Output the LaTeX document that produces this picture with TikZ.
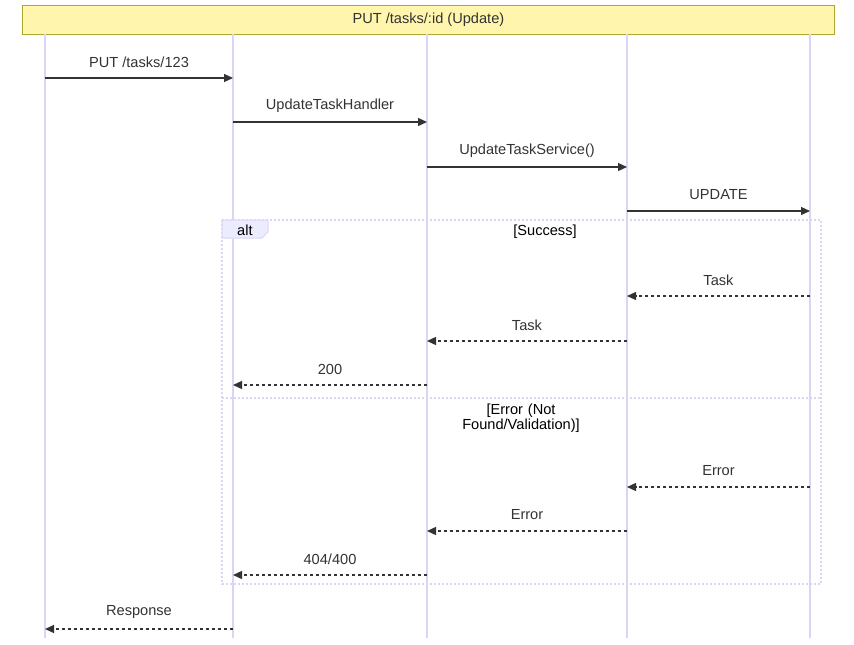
\documentclass[tikz,border=0pt]{standalone}
\usepackage{fontspec}
\setmainfont{Liberation Sans}
\usetikzlibrary{arrows.meta}
\definecolor{ink}{HTML}{333333}
\definecolor{life}{HTML}{DCD4F3}
\definecolor{notefill}{HTML}{FFF5AD}
\definecolor{noteline}{HTML}{AAAA33}
\definecolor{tabfill}{HTML}{ECECFF}
\begin{document}
\begin{tikzpicture}[x=1pt,y=-1pt,
  txt/.style={font=\fontsize{14.6}{16}\selectfont, text=ink, inner sep=0pt},
  lifeline/.style={draw=life, line width=1.6pt},
  msg/.style={draw=ink, line width=1.3pt, -{Triangle[length=9pt,width=8pt]}},
  reply/.style={msg, dash pattern=on 3pt off 3pt},
  lbl/.style={txt, midway, yshift=16pt},
  frame/.style={draw=life, line width=1.8pt, dash pattern=on 2pt off 2pt},
  guard/.style={font=\fontsize{14.6}{16}\selectfont, text=black, inner sep=0pt, align=center}
]
\useasboundingbox (0,0) rectangle (854,645);

% title note across all participants
\node[draw=noteline, fill=notefill, line width=0.8pt, minimum width=812pt, minimum height=29pt,
      inner sep=0pt, anchor=north west, txt] (title) at (22,5) {PUT /tasks/:id (Update)};

% lifelines
\foreach \n/\x in {client/45, handler/233, service/427, repo/627, db/810} {
  \coordinate (\n top) at (\x,34);
  \coordinate (\n bot) at (\x,638);
  \draw[lifeline] (\n top) -- (\n bot);
}

% alt frame
\coordinate (altNW) at (222,220);
\coordinate (altSE) at (821,584);
\draw[frame] (altNW) rectangle (altSE);
\coordinate (sepL) at (222,398);
\coordinate (sepR) at (821,398);
\draw[frame] (sepL) -- (sepR);
\draw[draw=life, fill=tabfill, line width=1pt]
  (222,220) -- (268,220) -- (268,232) -- (262,238) -- (222,238) -- cycle;
\node[guard, anchor=west] (alt) at (237,230.5) {alt};
\node[guard] (success) at (545,232) {[Success]};
\node[guard, text width=150pt, font=\fontsize{14.6}{15}\selectfont] (error) at (521,418.5) {[Error (Not\\Found/Validation)]};

% message end points
\foreach \n/\x in {client/45, handler/233, service/427, repo/627, db/810} {
  \foreach \k/\y in {1/78, 2/122, 3/167, 4/211, 5/296, 6/341, 7/385, 8/487, 9/531, 10/575, 11/629} {
    \coordinate (\n\k) at (\x,\y);
  }
}

\draw[msg] (client1) -- (handler1) node[lbl] (m1) {PUT /tasks/123};
\draw[msg] (handler2) -- (service2) node[lbl] (m2) {UpdateTaskHandler};
\draw[msg] (service3) -- (repo3) node[lbl] (m3) {UpdateTaskService()};
\draw[msg] (repo4) -- (db4) node[lbl] (m4) {UPDATE};

\draw[reply] (db5) -- (repo5) node[lbl] (m5) {Task};
\draw[reply] (repo6) -- (service6) node[lbl] (m6) {Task};
\draw[reply] (service7) -- (handler7) node[lbl] (m7) {200};

\draw[reply] (db8) -- (repo8) node[lbl] (m8) {Error};
\draw[reply] (repo9) -- (service9) node[lbl] (m9) {Error};
\draw[reply] (service10) -- (handler10) node[lbl] (m10) {404/400};

\draw[reply] (handler11) -- (client11) node[lbl, yshift=1pt] (m11) {Response};
\end{tikzpicture}
\end{document}
